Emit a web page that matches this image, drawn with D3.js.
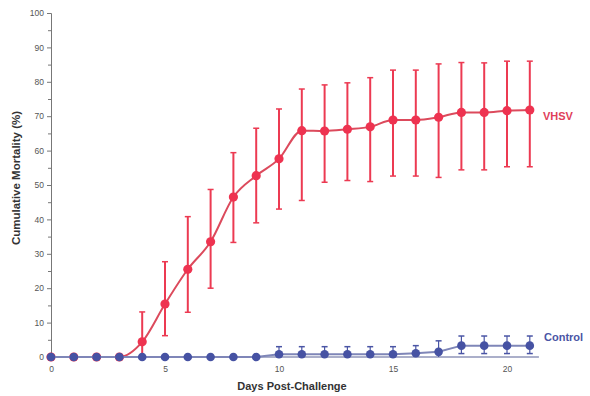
<!DOCTYPE html>
<html><head><meta charset="utf-8">
<script src="https://cdn.jsdelivr.net/npm/d3@7"></script>
<style>body{margin:0;background:#fff}svg{display:block}</style>
</head><body>
<svg id="c" width="590" height="396"></svg>
<script>
const days = [0,1,2,3,4,5,6,7,8,9,10,11,12,13,14,15,16,17,18,19,20,21];
const vhsvMean = [0,0,0,0,4.4,15.4,25.5,33.5,46.5,52.7,57.6,65.8,65.7,66.2,66.9,68.9,68.9,69.7,71.1,71.1,71.6,71.8];
const vhsvHigh = [null,null,null,null,13.1,27.7,40.8,48.7,59.4,66.5,72.1,77.9,79.1,79.7,81.2,83.4,83.4,85.2,85.6,85.5,86,86];
const vhsvLow  = [null,null,null,null,0,6.2,13,20,33.3,39,43,45.5,50.8,51.3,51,52.6,52.6,52.2,54.4,54.4,55.3,55.3];
const ctrlMean = [0,0,0,0,0,0,0,0,0,0,0.8,0.8,0.8,0.8,0.8,0.8,1.1,1.5,3.3,3.3,3.3,3.3];
const ctrlHigh = [null,null,null,null,null,null,null,null,null,null,3.0,3.0,3.0,3.0,3.0,3.0,3.3,4.7,6.1,6.1,6.1,6.1];
const ctrlLow  = [null,null,null,null,null,null,null,null,null,null,0,0,0,0,0,0,0,0,1.0,1.0,1.0,1.0];
const yTicks = [0,10,20,30,40,50,60,70,80,90,100];
const xTicks = [0,5,10,15,20];
const seriesLabels = ["VHSV","Control"];

const svg = d3.select("#c");
const x = d3.scaleLinear().domain([0,20]).range([51,507]);
const y = d3.scaleLinear().domain([0,100]).range([357,13]);

const axisColor = "#777";
const yAxis = d3.axisLeft(y).tickValues(yTicks).tickSize(4).tickPadding(3).tickFormat(d3.format("d"));
const gy = svg.append("g").attr("transform","translate(51,0)").call(yAxis);
gy.select(".domain").attr("stroke",axisColor);
gy.selectAll(".tick line").attr("stroke",axisColor);
gy.selectAll("text").attr("fill","#555").style("font-family","Liberation Sans, Arial, sans-serif").style("font-size","8.5px");
const gyMinor = svg.append("g").attr("transform","translate(51,0)")
  .call(d3.axisLeft(y).tickValues(d3.range(5,100,10)).tickSize(3).tickFormat(""));
gyMinor.select(".domain").remove();
gyMinor.selectAll(".tick line").attr("stroke",axisColor);

const xAxis = d3.axisBottom(x).tickValues(xTicks).tickSize(0).tickPadding(9).tickFormat(d3.format("d"));
const gx = svg.append("g").attr("transform","translate(0,357)").call(xAxis);
gx.select(".domain").remove();
gx.selectAll("text").attr("fill","#555").style("font-family","Liberation Sans, Arial, sans-serif").style("font-size","8.5px");
svg.append("line").attr("x1",x(0)).attr("x2",x(21.4)).attr("y1",y(0)).attr("y2",y(0)).attr("stroke","#8f95b8").attr("stroke-width",1.5);

svg.append("text").attr("transform","translate(20,178) rotate(-90)").attr("text-anchor","middle")
  .style("font-family","Liberation Sans, Arial, sans-serif").style("font-size","11.5px").style("font-weight","bold").attr("fill","#333")
  .text("Cumulative Mortality (%)");
svg.append("text").attr("x",292).attr("y",390).attr("text-anchor","middle")
  .style("font-family","Liberation Sans, Arial, sans-serif").style("font-size","11px").style("font-weight","bold").attr("fill","#333")
  .text("Days Post-Challenge");

function drawSeries(mean, low, high, lineColor, barColor, dotColor, lw, bw, r, curve){
  const g = svg.append("g");
  const data = days.map((d,i)=>({d, m:mean[i], lo:low[i], hi:high[i]}));
  const eb = data.filter(p=>p.hi!==null);
  g.selectAll(".eb").data(eb).enter().append("line")
    .attr("x1",p=>x(p.d)).attr("x2",p=>x(p.d)).attr("y1",p=>y(p.lo)).attr("y2",p=>y(p.hi))
    .attr("stroke",barColor).attr("stroke-width",bw);
  g.selectAll(".capH").data(eb).enter().append("line")
    .attr("x1",p=>x(p.d)-3).attr("x2",p=>x(p.d)+3).attr("y1",p=>y(p.hi)).attr("y2",p=>y(p.hi))
    .attr("stroke",barColor).attr("stroke-width",1.5);
  g.selectAll(".capL").data(eb.filter(p=>p.lo>0)).enter().append("line")
    .attr("x1",p=>x(p.d)-3).attr("x2",p=>x(p.d)+3).attr("y1",p=>y(p.lo)).attr("y2",p=>y(p.lo))
    .attr("stroke",barColor).attr("stroke-width",1.5);
  g.append("path").datum(data)
    .attr("d",d3.line().x(p=>x(p.d)).y(p=>y(p.m)).curve(curve))
    .attr("fill","none").attr("stroke",lineColor).attr("stroke-width",lw);
  g.selectAll("circle").data(data).enter().append("circle")
    .attr("cx",p=>x(p.d)).attr("cy",p=>y(p.m)).attr("r",r).attr("fill",dotColor);
}

drawSeries(vhsvMean, vhsvLow, vhsvHigh, "#dc4a5c", "#ec3a52", "#ee3350", 2, 2, 4.6, d3.curveMonotoneX);
drawSeries(ctrlMean, ctrlLow, ctrlHigh, "#7f86b8", "#4a55a5", "#4652a3", 2, 1.2, 4.3, d3.curveLinear);

svg.append("text").attr("x",543).attr("y",120).style("font-family","Liberation Sans, Arial, sans-serif")
  .style("font-size","11px").style("font-weight","bold").attr("fill","#e0405a").text(seriesLabels[0]);
svg.append("text").attr("x",544).attr("y",341).style("font-family","Liberation Sans, Arial, sans-serif")
  .style("font-size","11px").style("font-weight","bold").attr("fill","#4a55a5").text(seriesLabels[1]);
</script>
</body></html>
